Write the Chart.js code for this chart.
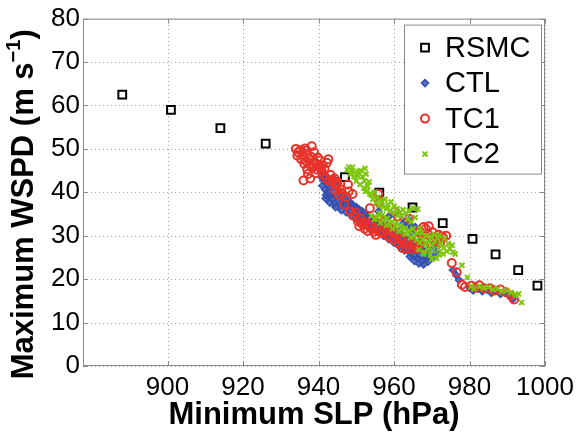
<!DOCTYPE html>
<html>
<head>
<meta charset="utf-8">
<title>Minimum SLP vs Maximum WSPD</title>
<script src="https://cdn.jsdelivr.net/npm/chart.js@4/dist/chart.umd.min.js"></script>
<style>
    html, body { margin: 0; padding: 0; background: #fff; }
    #wrap { width: 582px; height: 435px; }
</style>
</head>
<body>
<div id="wrap"><canvas id="slp-wspd-chart" width="582" height="435"></canvas></div>
<script>
    // Axis ticks
    const xTicks = [900, 920, 940, 960, 980, 1000];
    const yTicks = [0, 10, 20, 30, 40, 50, 60, 70, 80];

    // RSMC best track
    const rsmcSlp  = [888.0, 900.9, 914.0, 926.0, 947.0, 956.1, 964.9, 972.9, 980.8, 986.9, 992.9, 998.0];
    const rsmcWspd = [62.5, 59.0, 54.8, 51.2, 43.5, 39.9, 36.5, 32.9, 29.3, 25.7, 22.1, 18.5];

    // CTL run
    const ctlSlp = [
        940.8, 941.3, 941.0, 941.8, 942.3, 942.6, 943.1, 943.5, 942.0, 944.0,
        944.6, 945.2, 944.2, 945.8, 946.4, 947.0, 947.6, 948.2, 948.8, 949.4,
        950.0, 950.6, 951.2, 951.8, 952.4, 953.0, 953.6, 954.2, 954.8, 955.4,
        956.0, 956.6, 957.2, 957.8, 958.4, 959.0, 959.6, 960.2, 960.8, 961.4,
        962.0, 962.6, 963.2, 963.8, 964.4, 965.0, 965.6, 966.2, 966.8, 967.4,
        968.0, 968.6, 969.2, 969.8, 970.4, 964.8, 963.4, 958.6, 957.2, 955.9,
        964.0, 964.7, 961.6,
        941.5, 942.2, 942.9, 943.6, 944.3, 945.0, 945.7, 946.3, 947.0, 947.7,
        948.5, 949.2, 950.0, 950.7, 951.5, 952.2, 953.0, 953.7, 954.5, 955.2,
        941.9, 943.0, 944.5, 946.0, 947.3, 948.7, 950.2, 951.6, 953.0, 954.4,
        955.8, 957.2, 958.6, 960.0, 961.4, 962.8, 964.2, 965.4, 966.6, 967.8,
        969.0, 970.0, 971.0, 960.0, 961.2, 962.6, 963.8, 965.0, 966.2, 967.4,
        968.6, 962.2, 963.0, 965.6,
        975.6, 976.5, 977.2, 980.0, 981.0, 982.2, 983.4,
        984.6, 985.8, 987.0, 988.2, 989.4, 990.6, 991.4
    ];
    const ctlWspd = [
        43.5, 42.8, 41.5, 40.6, 41.9, 40.1, 39.2, 38.6, 39.4, 40.2,
        39.0, 38.1, 37.4, 37.0, 38.0, 37.2, 36.5, 36.9, 35.8, 36.3,
        35.2, 34.6, 35.0, 34.0, 33.6, 34.1, 33.0, 32.6, 33.2, 32.2,
        31.5, 32.4, 31.0, 30.4, 31.2, 29.8, 30.6, 29.6, 28.8, 29.4,
        28.2, 27.4, 28.0, 26.6, 26.0, 26.8, 25.4, 24.8, 25.6, 24.2,
        25.0, 24.6, 25.8, 26.4, 27.2, 30.6, 32.0, 34.4, 33.0, 35.6,
        33.6, 32.0, 30.6,
        44.0, 43.0, 42.2, 41.3, 42.0, 40.9, 39.8, 39.2, 38.6, 38.0,
        37.6, 37.0, 36.6, 36.1, 35.7, 35.0, 34.6, 34.2, 33.8, 33.4,
        38.6, 37.6, 36.6, 35.9, 35.4, 34.6, 33.8, 33.0, 32.0, 31.4,
        30.8, 30.0, 29.2, 28.4, 27.6, 26.6, 25.2, 24.2, 23.6, 23.4,
        24.0, 25.0, 26.2, 31.8, 31.0, 30.0, 29.2, 28.6, 27.6, 26.8,
        26.6, 32.6, 33.4, 32.0,
        22.1, 20.9, 19.8, 18.0, 17.4, 17.8, 17.2,
        17.6, 16.8, 17.3, 16.6, 16.9, 16.2, 15.4
    ];

    // TC1 run
    const tc1Slp = [
        934.0, 934.6, 935.2, 935.8, 936.4, 936.9, 937.4, 938.2, 938.0, 938.8,
        939.4, 939.8, 940.4, 941.0, 941.6, 942.2, 942.6, 936.2, 937.0, 937.8,
        936.0, 939.2, 940.8, 943.2, 944.2, 945.0, 945.6, 944.8, 947.8, 945.4,
        934.4, 935.4, 936.6, 937.6, 938.6, 939.6, 940.2, 941.4, 942.0, 943.0,
        943.8, 944.6, 936.8, 938.8, 937.2, 946.2, 947.4, 948.0, 949.0, 944.4,
        946.8, 948.4, 949.2, 949.8, 950.4, 950.8, 951.4, 952.2, 953.0, 953.8,
        954.6, 955.4, 955.8, 956.1, 953.6, 960.3, 961.0, 957.4, 958.6, 959.6,
        960.6, 961.8, 962.8, 963.6, 964.0, 965.2, 966.4, 967.4, 968.4, 969.0,
        969.8, 970.6, 971.4, 972.2, 973.0, 973.8, 966.0, 968.0,
        951.0, 952.0, 953.4, 954.2, 955.2, 956.0, 956.8, 957.8, 958.2, 959.0,
        960.0, 961.2, 962.2, 963.2, 964.6, 965.8, 967.0, 968.0, 966.8, 967.8,
        969.2, 970.2, 971.8, 972.6, 959.7, 962.0, 958.9,
        975.3, 976.6, 978.0, 978.8, 980.5, 981.6, 982.6, 983.8, 985.4, 986.6,
        988.2, 989.6, 991.0, 991.8
    ];
    const tc1Wspd = [
        50.0, 49.2, 49.7, 48.6, 50.1, 48.9, 47.8, 50.6, 48.2, 47.1,
        46.5, 48.0, 47.4, 46.2, 45.4, 46.8, 47.6, 46.6, 45.3, 43.2,
        42.7, 44.4, 44.9, 44.0, 43.2, 42.4, 40.8, 41.6, 41.8, 39.3,
        48.4, 47.6, 47.2, 46.4, 45.8, 45.2, 46.0, 44.0, 43.2, 42.6,
        42.8, 42.3, 49.6, 49.2, 44.2, 39.8, 39.0, 40.2, 39.6, 40.5,
        37.2, 35.6, 34.6, 35.3, 33.4, 32.2, 32.8, 31.6, 31.1, 31.8,
        30.9, 31.6, 39.6, 37.6, 36.3, 35.6, 34.4, 33.4, 32.0, 31.2,
        30.2, 29.4, 28.2, 29.0, 33.9, 28.4, 29.2, 30.0, 31.6, 30.4,
        29.4, 28.6, 29.2, 28.4, 29.6, 30.0, 27.0, 27.6,
        34.0, 33.0, 32.6, 33.6, 30.2, 31.0, 30.6, 31.4, 30.0, 29.6,
        29.0, 28.2, 27.2, 27.0, 26.8, 27.8, 28.2, 29.0, 31.0, 32.0,
        32.2, 30.8, 30.2, 29.8, 30.5, 29.0, 31.6,
        23.7, 21.6, 18.7, 18.2, 18.5, 18.0, 18.6, 17.9, 17.9, 17.4,
        17.6, 17.0, 16.2, 15.3
    ];

    // TC2 run
    const tc2Slp = [
        947.6, 948.4, 949.0, 949.6, 950.4, 951.2, 952.3, 952.6, 950.0, 951.0,
        952.2, 953.0, 952.4, 953.6, 954.4, 955.2, 956.0, 956.8, 957.6, 958.4,
        959.2, 960.0, 960.8, 961.6, 962.4, 963.2, 964.0, 965.0, 966.3, 954.0,
        954.8, 955.6, 956.4, 957.2, 958.0, 958.8, 959.6, 960.4, 961.2, 962.0,
        962.8, 963.6, 964.4, 965.2, 966.0, 966.8, 967.6, 968.4, 969.2, 970.0,
        970.8, 971.6, 972.4, 973.2, 974.0, 974.8, 975.6, 976.2, 968.0, 969.6,
        971.3, 972.0, 966.9,
        948.0, 948.8, 949.4, 950.6, 951.6, 952.0, 953.4, 953.0, 954.0, 954.8,
        955.6, 956.4, 957.2, 958.0, 959.0, 960.2, 961.0, 962.0, 963.6, 964.6,
        965.6, 956.0, 957.0, 958.2, 959.4, 960.6, 961.8, 963.0, 964.0, 965.0,
        966.2, 967.4, 968.6, 969.8, 970.8, 972.0, 973.4, 974.4, 975.4, 966.6,
        967.8, 969.0, 970.2, 971.8, 973.0, 970.0,
        978.0, 979.4, 980.4, 981.2, 982.6, 983.8, 985.0,
        986.2, 987.4, 988.6, 989.8, 991.0, 992.2, 993.0, 993.8
    ];
    const tc2Wspd = [
        45.2, 44.2, 45.8, 44.6, 43.8, 45.0, 45.5, 44.2, 42.6, 41.8,
        42.6, 41.4, 40.2, 39.6, 38.4, 37.6, 37.0, 37.8, 38.4, 37.2,
        37.8, 36.8, 36.2, 35.4, 36.0, 35.2, 35.8, 36.4, 36.1, 34.6,
        33.8, 34.2, 33.0, 33.6, 32.4, 32.8, 31.6, 32.2, 31.0, 31.4,
        30.4, 30.8, 29.6, 30.2, 29.0, 28.4, 29.2, 28.0, 28.6, 27.8,
        28.8, 29.4, 28.2, 27.2, 26.4, 27.0, 26.2, 25.8, 26.2, 25.6,
        24.8, 25.6, 31.7,
        45.8, 45.0, 43.6, 44.8, 43.6, 41.0, 42.4, 40.4, 39.4, 40.0,
        38.8, 38.2, 36.6, 36.2, 35.8, 35.2, 34.6, 34.6, 33.8, 33.2,
        34.2, 35.2, 34.8, 34.0, 33.2, 33.0, 32.4, 31.8, 31.2, 31.6,
        30.6, 30.6, 30.0, 29.8, 30.2, 30.0, 29.4, 28.2, 27.8, 26.8,
        25.8, 26.8, 26.6, 27.0, 25.8, 24.6,
        23.2, 20.4, 18.3, 17.8, 18.3, 17.9, 18.2,
        17.6, 17.8, 17.2, 17.4, 16.9, 16.4, 16.6, 14.6
    ];

    const FONT = '"Liberation Sans", Arial, Helvetica, sans-serif';
    const FRAME_COLOR = '#8a8a8a';

    /**
     * Pair up two value lists into scatter points
     */
    function toPoints(xs, ys) {
        return xs.map(function(x, i) {
            return { x: x, y: ys[i] };
        });
    }

    /**
     * Dotted grid, drawn under the markers
     */
    const gridPlugin = {
        id: 'dottedGrid',
        beforeDatasetsDraw: function(chart) {
            const ctx = chart.ctx;
            const a = chart.chartArea;
            const xs = chart.scales.x;
            const ys = chart.scales.y;

            ctx.save();
            ctx.strokeStyle = '#a8a8a8';
            ctx.lineWidth = 1;
            ctx.setLineDash([1, 3]);
            ctx.beginPath();
            xTicks.forEach(function(v) {
                const px = Math.round(xs.getPixelForValue(v)) + 0.5;
                ctx.moveTo(px, a.bottom);
                ctx.lineTo(px, a.top);
            });
            yTicks.forEach(function(v) {
                const py = Math.round(ys.getPixelForValue(v)) + 0.5;
                ctx.moveTo(a.left, py);
                ctx.lineTo(a.right, py);
            });
            ctx.stroke();
            ctx.restore();
        }
    };

    /**
     * Axes box with inward ticks (MATLAB look)
     */
    const framePlugin = {
        id: 'frame',
        afterDraw: function(chart) {
            const ctx = chart.ctx;
            const a = chart.chartArea;
            const xs = chart.scales.x;
            const ys = chart.scales.y;
            const len = 5;

            ctx.save();
            ctx.strokeStyle = FRAME_COLOR;
            ctx.lineWidth = 1;
            ctx.strokeRect(a.left + 0.5, a.top + 0.5, a.right - a.left - 1, a.bottom - a.top - 1);

            ctx.beginPath();
            xTicks.forEach(function(v) {
                const px = Math.round(xs.getPixelForValue(v)) + 0.5;
                ctx.moveTo(px, a.bottom);
                ctx.lineTo(px, a.bottom - len);
                ctx.moveTo(px, a.top);
                ctx.lineTo(px, a.top + len);
            });
            yTicks.forEach(function(v) {
                const py = Math.round(ys.getPixelForValue(v)) + 0.5;
                ctx.moveTo(a.left, py);
                ctx.lineTo(a.left + len, py);
                ctx.moveTo(a.right, py);
                ctx.lineTo(a.right - len, py);
            });
            ctx.stroke();
            ctx.restore();
        }
    };

    /**
     * Rotated y title with superscript unit
     */
    const yTitlePlugin = {
        id: 'yTitle',
        afterDraw: function(chart) {
            const ctx = chart.ctx;
            const a = chart.chartArea;
            const bigFont = 'bold 31px ' + FONT;
            const smallFont = 'bold 20px ' + FONT;
            const main = 'Maximum WSPD (m s';
            const sup = '\u22121';

            ctx.save();
            ctx.fillStyle = '#000';
            ctx.textBaseline = 'alphabetic';
            ctx.textAlign = 'left';

            ctx.font = bigFont;
            const w1 = ctx.measureText(main).width;
            const w3 = ctx.measureText(')').width;
            ctx.font = smallFont;
            const w2 = ctx.measureText(sup).width;
            const total = w1 + w2 + w3;

            ctx.translate(33, (a.top + a.bottom) / 2 + 12);
            ctx.rotate(-Math.PI / 2);

            let x = -total / 2;
            ctx.font = bigFont;
            ctx.fillText(main, x, 0);
            x += w1;
            ctx.font = smallFont;
            ctx.fillText(sup, x, -13);
            x += w2;
            ctx.font = bigFont;
            ctx.fillText(')', x, 0);
            ctx.restore();
        }
    };

    /**
     * Boxed legend inside the upper right of the plot
     */
    const legendPlugin = {
        id: 'boxLegend',
        afterDraw: function(chart) {
            const ctx = chart.ctx;
            const a = chart.chartArea;
            const sets = chart.data.datasets;
            const boxW = 137;
            const rowH = 35.5;
            const boxH = rowH * sets.length + 7;
            const left = a.right - 4 - boxW;
            const top = a.top + 6;

            ctx.save();
            ctx.fillStyle = '#fff';
            ctx.fillRect(left, top, boxW, boxH);
            ctx.strokeStyle = FRAME_COLOR;
            ctx.lineWidth = 1;
            ctx.strokeRect(left + 0.5, top + 0.5, boxW, boxH);

            sets.forEach(function(ds, i) {
                const cy = top + 23 + i * rowH;
                ctx.strokeStyle = ds.borderColor;
                ctx.fillStyle = ds.backgroundColor;
                ctx.lineWidth = ds.borderWidth;
                Chart.helpers.drawPoint(ctx, {
                    pointStyle: ds.pointStyle,
                    radius: ds.pointRadius,
                    rotation: 0,
                    borderWidth: ds.borderWidth
                }, left + 21, cy);

                ctx.fillStyle = '#000';
                ctx.font = '29px ' + FONT;
                ctx.textBaseline = 'middle';
                ctx.textAlign = 'left';
                ctx.fillText(ds.label, left + 41, cy + 1);
            });
            ctx.restore();
        }
    };

    Chart.defaults.font.family = FONT;
    Chart.defaults.color = '#000';

    const canvas = document.getElementById('slp-wspd-chart');

    new Chart(canvas, {
        type: 'scatter',
        data: {
            datasets: [
                {
                    label: 'RSMC',
                    data: toPoints(rsmcSlp, rsmcWspd),
                    pointStyle: 'rect',
                    pointRadius: 5.5,
                    borderColor: '#000000',
                    backgroundColor: 'rgba(0,0,0,0)',
                    borderWidth: 2,
                    order: 4
                },
                {
                    label: 'CTL',
                    data: toPoints(ctlSlp, ctlWspd),
                    pointStyle: 'rectRot',
                    pointRadius: 3.5,
                    borderColor: '#3450b2',
                    backgroundColor: 'rgba(52,80,178,0.8)',
                    borderWidth: 1.5,
                    order: 3
                },
                {
                    label: 'TC1',
                    data: toPoints(tc1Slp, tc1Wspd),
                    pointStyle: 'circle',
                    pointRadius: 4,
                    borderColor: '#e8322a',
                    backgroundColor: 'rgba(0,0,0,0)',
                    borderWidth: 2,
                    order: 2
                },
                {
                    label: 'TC2',
                    data: toPoints(tc2Slp, tc2Wspd),
                    pointStyle: 'crossRot',
                    pointRadius: 3.5,
                    borderColor: '#7cc60c',
                    backgroundColor: '#7cc60c',
                    borderWidth: 2,
                    order: 1
                }
            ]
        },
        options: {
            responsive: false,
            animation: false,
            events: [],
            layout: {
                padding: { left: 0, top: 18, right: 37, bottom: 0 }
            },
            plugins: {
                legend: { display: false },
                tooltip: { enabled: false }
            },
            scales: {
                x: {
                    type: 'linear',
                    min: 877.6,
                    max: 1000,
                    afterBuildTicks: function(scale) {
                        scale.ticks = xTicks.map(function(v) { return { value: v }; });
                    },
                    afterFit: function(scale) {
                        scale.height = 69;
                    },
                    grid: { display: false, drawTicks: false },
                    border: { display: false },
                    ticks: {
                        font: { size: 26 },
                        color: '#000',
                        padding: 6,
                        maxRotation: 0,
                        callback: function(value) {
                            return String(value);
                        }
                    },
                    title: {
                        display: true,
                        text: 'Minimum SLP (hPa)',
                        color: '#000',
                        font: { size: 31, weight: 'bold' },
                        padding: { top: 0, bottom: 1 }
                    }
                },
                y: {
                    type: 'linear',
                    min: 0,
                    max: 80,
                    afterBuildTicks: function(scale) {
                        scale.ticks = yTicks.map(function(v) { return { value: v }; });
                    },
                    afterFit: function(scale) {
                        scale.width = 83;
                    },
                    grid: { display: false, drawTicks: false },
                    border: { display: false },
                    ticks: {
                        font: { size: 26 },
                        color: '#000',
                        padding: 3,
                        callback: function(value) {
                            return String(value);
                        }
                    }
                }
            }
        },
        plugins: [gridPlugin, framePlugin, yTitlePlugin, legendPlugin]
    });
</script>
</body>
</html>
